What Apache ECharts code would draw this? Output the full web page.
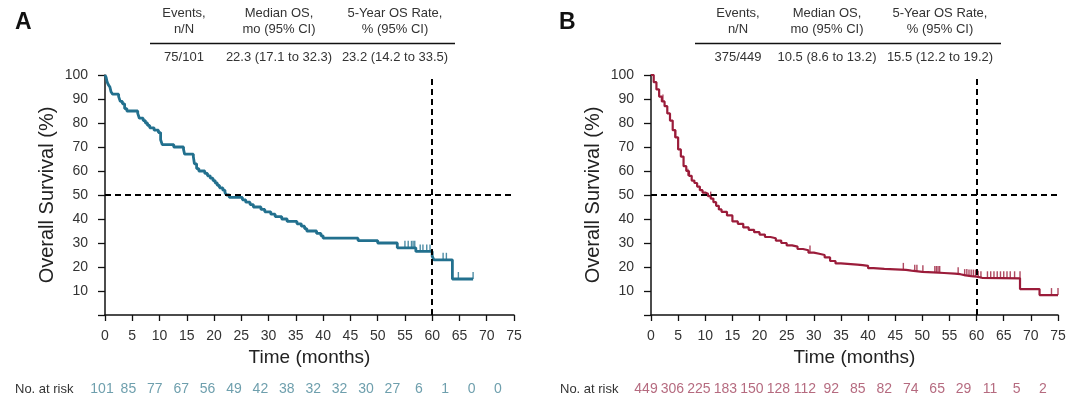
<!DOCTYPE html>
<html><head><meta charset="utf-8">
<script src="https://cdn.jsdelivr.net/npm/echarts@6/dist/echarts.min.js"></script>
<style>html,body{margin:0;padding:0;background:#fff}#c{width:1080px;height:419px}</style>
</head><body><div id="c"></div>
<script>
// ---------- data ----------
const xTicks = [0,5,10,15,20,25,30,35,40,45,50,55,60,65,70,75];
const riskA = [101,85,77,67,56,49,42,38,32,32,30,27,6,1,0,0];
const riskB = [449,306,225,183,150,128,112,92,85,82,74,65,29,11,5,2];
const headerCols = ['Events,\nn/N','Median OS,\nmo (95% CI)','5-Year OS Rate,\n% (95% CI)'];
const rowA = ['75/101','22.3 (17.1 to 32.3)','23.2 (14.2 to 33.5)'];
const rowB = ['375/449','10.5 (8.6 to 13.2)','15.5 (12.2 to 19.2)'];
const kmA = [[0,100],[0.2,99],[0.4,97],[0.6,96],[0.9,95],[1.1,93],[1.4,92],[2.5,91],[2.8,89],[3.2,88],[3.6,86],[4.0,85],[6.0,84],[6.3,82],[7.0,81],[7.4,80],[7.8,79],[8.2,78],[9.0,77],[9.8,76],[10.2,73],[10.5,71],[12.6,70],[14.4,69],[14.6,67],[16.2,66],[16.4,63],[16.8,61],[17.2,60],[18.3,59],[18.8,58],[19.3,57],[19.8,56],[20.2,55],[20.6,54],[21.0,53],[21.6,52],[22.0,51],[22.3,50],[22.8,49],[25.2,48],[25.8,47],[26.6,46],[27.2,45],[28.6,44],[29.3,43],[30.4,42],[31.2,41],[32.4,40],[33.4,39],[35.2,38],[36.0,37],[36.6,36],[37.0,35],[38.8,34],[39.6,33],[40.0,32],[46.4,31],[50.0,30],[53.6,28],[57.0,26.5],[60.0,24.5],[60.3,23],[63.7,15],[67.5,15]];
const censA = [[55,28],[55.6,28],[56.2,28],[56.5,28],[56.8,28],[57.8,26.5],[58.3,26.5],[59,26.5],[59.6,26.5],[62,23],[62.6,23],[64.8,15],[67.5,15]];
const kmB = [[0,100],[0.5,97],[1,94],[1.5,91],[2,89],[2.5,87],[3,84],[3.5,81],[4,77],[4.5,74],[5,69],[5.5,66],[6,62],[6.5,60],[7,58],[7.5,56],[8,55],[8.5,53.5],[9,52],[9.5,51],[10,50.5],[10.5,49.5],[11,48.5],[11.5,47],[12,45.5],[12.5,44],[13,43],[14,41.5],[15,39],[16,38],[17,36.5],[18,35.5],[19,34.5],[20,33.5],[21,32.5],[22,32],[23,31],[24,30],[25,29],[26,28.5],[27,27.5],[28,27],[29,26],[30,25.5],[31,25],[32,24],[33,22.5],[34,21.5],[35,21],[38,20.8],[39,20.5],[40,19.5],[41,19.2],[43,19],[45,18.8],[47,18.5],[48,18],[50,17.8],[52,17.5],[54,17.2],[56,17],[57,16.5],[58,16.2],[59,16],[60,15.5],[61,15.3],[68,10.8],[71.6,8.3],[75,8.3]];
const censB = [[2.2,89],[4.4,74],[6.8,58],[11,48.5],[29.3,26],[46.5,18.8],[48.6,18],[49,18],[50.1,17.8],[52.3,17.5],[52.6,17.5],[52.9,17.5],[53.2,17.5],[56.6,17],[57.8,16.2],[58.2,16.2],[58.6,16],[59,16],[59.4,16],[59.8,16],[60.3,15.5],[60.8,15.3],[62,15.3],[62.6,15.3],[63.2,15.3],[63.8,15.3],[64.4,15.3],[65,15.3],[65.6,15.3],[66.2,15.3],[67,15.3],[68,15.3],[73.8,8.3],[75,8.3]];

// ---------- chart ----------
const colA = '#22708e', colB = '#9b1c3a';
const riskColA = '#4a8799', riskColB = '#a3455f';
const FONT = 'Liberation Sans, Arial, sans-serif';
const chart = echarts.init(document.getElementById('c'), null, {renderer:'canvas'});

function xAx(grid){
  return {type:'value', gridIndex:grid, min:0, max:75, interval:5,
    name:'Time (months)', nameLocation:'middle', nameGap:32,
    nameTextStyle:{fontSize:19, color:'#222', fontFamily:FONT},
    axisLine:{lineStyle:{color:'#111', width:1.5}},
    axisTick:{length:6, lineStyle:{color:'#111', width:1.3}},
    axisLabel:{fontSize:14, color:'#333', margin:14, fontFamily:FONT},
    splitLine:{show:false}};
}
function yAx(grid){
  return {type:'value', gridIndex:grid, min:0, max:100, interval:10,
    name:'Overall Survival (%)', nameLocation:'middle', nameGap:48,
    nameTextStyle:{fontSize:20, color:'#222', fontFamily:FONT},
    axisLine:{show:true, lineStyle:{color:'#111', width:1.5}},
    axisTick:{show:true, length:7, lineStyle:{color:'#111', width:1.3}},
    axisLabel:{fontSize:14, color:'#333', margin:17, fontFamily:FONT, formatter:v=> v===0?'':v},
    splitLine:{show:false}};
}
function riskX(grid){ return {type:'value', gridIndex:grid, min:0, max:75, show:false}; }
function riskY(grid){ return {type:'value', gridIndex:grid, min:-1, max:1, show:false}; }

function kmSeries(data, col, xi, w){
  return {type:'line', xAxisIndex:xi, yAxisIndex:xi, data:data, step:'end', showSymbol:false, symbol:'none',
    lineStyle:{color:col, width:w}, z:3, silent:true,
    markLine:{silent:true, symbol:'none', label:{show:false},
      lineStyle:{color:'#000', type:[6,4], width:2},
      data:[[{coord:[0,50]},{coord:[75,50]}],[{coord:[60,0]},{coord:[60,100]}]]}};
}
function censSeries(data, col, xi){
  return {type:'scatter', xAxisIndex:xi, yAxisIndex:xi, data:data, symbol:'rect',
    symbolSize:[1.4,7], symbolOffset:[0,-3.5], itemStyle:{color:col}, z:4, silent:true};
}
function riskSeries(vals, col, xi){
  return {type:'scatter', xAxisIndex:xi, yAxisIndex:xi, symbolSize:0,
    data: xTicks.map((t,i)=>({value:[t,0], name:String(vals[i])})),
    label:{show:true, position:'inside', formatter:p=>p.name, color:col, fontSize:14, fontFamily:FONT}, silent:true};
}

const graphics = [];
function table(x0, x1, centers, row){
  headerCols.forEach((h,i)=>{
    graphics.push({type:'text', x:centers[i], y:5, style:{text:h, fill:'#333', font:'13px '+FONT, textAlign:'center', textVerticalAlign:'top', lineHeight:16}});
    graphics.push({type:'text', x:centers[i], y:57, style:{text:row[i], fill:'#333', font:'13px '+FONT, textAlign:'center', textVerticalAlign:'middle'}});
  });
  graphics.push({type:'line', shape:{x1:x0, y1:43.5, x2:x1, y2:43.5}, style:{stroke:'#111', lineWidth:1.6}});
}
table(150, 455, [184, 279, 395], rowA);
table(695, 1001, [738, 827, 940], rowB);
graphics.push({type:'text', x:15, y:389, style:{text:'No. at risk', fill:'#333', font:'13px '+FONT, textVerticalAlign:'middle'}});
graphics.push({type:'text', x:560, y:389, style:{text:'No. at risk', fill:'#333', font:'13px '+FONT, textVerticalAlign:'middle'}});

chart.setOption({
  animation:false,
  backgroundColor:'#fff',
  title:[
    {text:'A', left:10, top:6, textStyle:{fontSize:23, fontWeight:'bold', color:'#111', fontFamily:FONT}},
    {text:'B', left:554, top:6, textStyle:{fontSize:23, fontWeight:'bold', color:'#111', fontFamily:FONT}}
  ],
  grid:[
    {left:105, right:566, top:75, bottom:104},
    {left:651, right:22, top:75, bottom:104},
    {left:102, right:582, top:379, height:20},
    {left:646, right:37, top:379, height:20}
  ],
  xAxis:[xAx(0), xAx(1), riskX(2), riskX(3)],
  yAxis:[yAx(0), yAx(1), riskY(2), riskY(3)],
  series:[
    kmSeries(kmA, colA, 0, 2.8), censSeries(censA, colA, 0),
    kmSeries(kmB, colB, 1, 2.2), censSeries(censB, colB, 1),
    riskSeries(riskA, riskColA, 2), riskSeries(riskB, riskColB, 3)
  ],
  graphic: graphics
});
</script></body></html>
